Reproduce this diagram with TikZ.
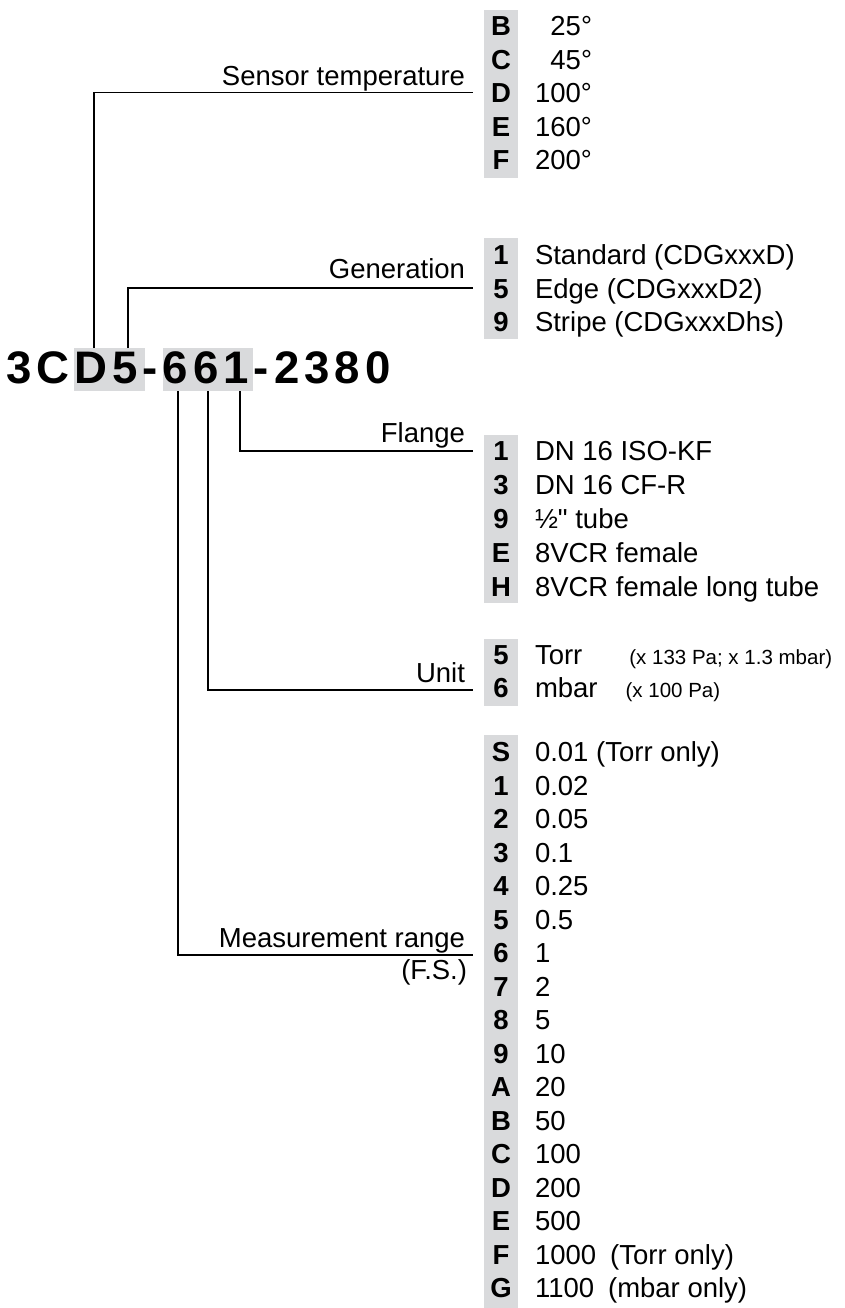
\documentclass[tikz,border=0pt]{standalone}
\usepackage{fontspec}
\setmainfont{Liberation Sans}[Ligatures=TeXOff]
\definecolor{codegray}{RGB}{217,218,220}
\tikzset{
  txt/.style={inner sep=0pt, outer sep=0pt, font=\fontsize{27.5pt}{33pt}\selectfont},
  codechar/.style={inner sep=0pt, outer sep=0pt, anchor=base, font=\fontsize{27.5pt}{33pt}\selectfont\bfseries},
  valtxt/.style={txt, anchor=base west},
  lbl/.style={txt, anchor=base east},
  conn/.style={line width=1.8pt, line join=miter, black}
}
\begin{document}
\begin{tikzpicture}[x=1pt,y=-1pt]
\useasboundingbox (0,0) rectangle (844,1308);

% gray bands of the lists
\fill[codegray] (484,10) rectangle (518,178);
\fill[codegray] (484,238) rectangle (518,339);
\fill[codegray] (484,435) rectangle (518,603);
\fill[codegray] (484,639) rectangle (518,706);
\fill[codegray] (484,735) rectangle (518,1308);

% highlighted groups of the type code
\fill[codegray] (74,348) rectangle (145,391);
\fill[codegray] (163,348) rectangle (253,391);

% type code
\node[inner sep=0pt, outer sep=0pt, anchor=base west,
      font=\fontsize{45.6pt}{50pt}\selectfont\bfseries\addfontfeature{LetterSpace=11}]
      (code) at (6,383) {3CD5-661-2380};

% Sensor temperature
\foreach \c/\v [count=\i from 0] in {B/25°,C/45°,D/100°,E/160°,F/200°}{
  \node[codechar] (stc\i) at (501,{26+33.5*\i+9.8}) {\c};
  \node[txt, anchor=base east] (stv\i) at (592,{26+33.5*\i+9.8}) {\v};
}
% Generation
\foreach \c/\v [count=\i from 0] in {1/Standard (CDGxxxD),5/Edge (CDGxxxD2),9/Stripe (CDGxxxDhs)}{
  \node[codechar] (gc\i) at (501,{255+33.5*\i+9.8}) {\c};
  \node[valtxt] (gv\i) at (535,{255+33.5*\i+9.8}) {\v};
}
% Flange
\foreach \c/\v [count=\i from 0] in {1/DN 16 ISO-KF,3/DN 16 CF-R,9/½" tube,E/8VCR female,H/8VCR female long tube}{
  \node[codechar] (fc\i) at (501,{451+34*\i+9.8}) {\c};
  \node[valtxt] (fv\i) at (535,{451+34*\i+9.8}) {\v};
}
% Unit
\node[codechar] (uc0) at (501,{655+9.8}) {5};
\node[valtxt] (uv0) at (535,{655+9.8}) {Torr\hspace{47pt}{\fontsize{20.5pt}{24pt}\selectfont(x 133 Pa; x 1.3 mbar)}};
\node[codechar] (uc1) at (501,{688+9.8}) {6};
\node[valtxt] (uv1) at (535,{688+9.8}) {mbar\hspace{28pt}{\fontsize{20.5pt}{24pt}\selectfont(x 100 Pa)}};

% Measurement range
\foreach \c/\v [count=\i from 0] in {S/0.01 (Torr only),1/0.02,2/0.05,3/0.1,4/0.25,5/0.5,6/1,7/2,8/5,9/10,A/20,B/50,C/100,D/200,E/500,F/1000\hspace{14pt}(Torr only),G/1100\hspace{14pt}(mbar only)}{
  \node[codechar] (mc\i) at (501,{752+33.5*\i+9.8}) {\c};
  \node[valtxt] (mv\i) at (535,{752+33.5*\i+9.8}) {\v};
}

% labels
\node[lbl] (lsens) at (465,85.5) {Sensor temperature};
\node[lbl] (lgen) at (465,278) {Generation};
\node[lbl] (lfl) at (465,442) {Flange};
\node[lbl] (lunit) at (465,682) {Unit};
\node[lbl] (lmeas) at (465,947) {Measurement range};
\node[lbl] (lfs) at (467,979) {(F.S.)};

% connector coordinates
\coordinate (sA) at (94,348);   \coordinate (sB) at (94,92.5);  \coordinate (sC) at (473,92.5);
\coordinate (gA) at (128,348);  \coordinate (gB) at (128,288);  \coordinate (gC) at (473,288);
\coordinate (fA) at (240,391);  \coordinate (fB) at (240,451);  \coordinate (fC) at (473,451);
\coordinate (uA) at (208,391);  \coordinate (uB) at (208,690);  \coordinate (uC) at (473,690);
\coordinate (mA) at (178,391);  \coordinate (mB) at (178,955);  \coordinate (mC) at (473,955);

\draw[conn] (sA) -- (sB) -- (sC);
\draw[conn] (gA) -- (gB) -- (gC);
\draw[conn] (fA) -- (fB) -- (fC);
\draw[conn] (uA) -- (uB) -- (uC);
\draw[conn] (mA) -- (mB) -- (mC);
\end{tikzpicture}
\end{document}
